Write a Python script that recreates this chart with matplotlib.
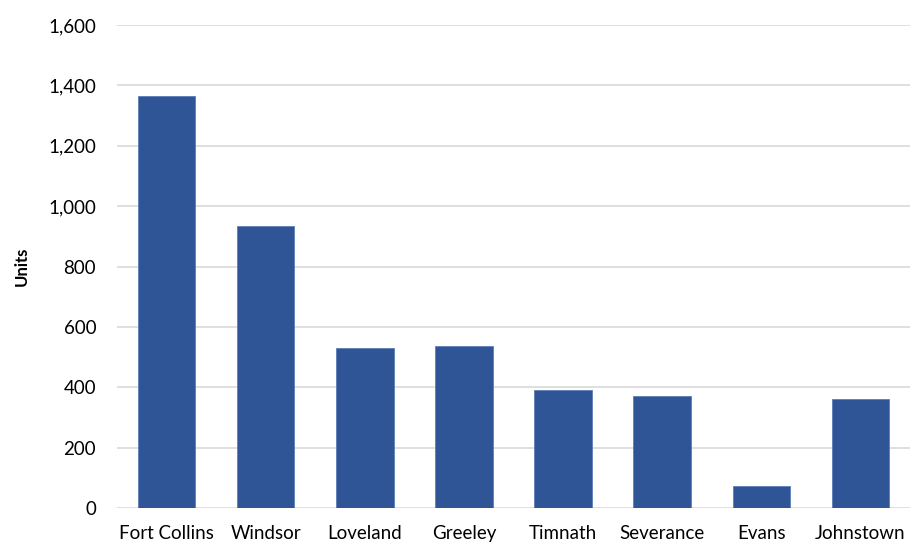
import matplotlib
matplotlib.use("Agg")
import matplotlib.pyplot as plt
from matplotlib.ticker import FuncFormatter, MultipleLocator

plt.rcParams['font.family'] = ['Lato', 'DejaVu Sans']

cities = ["Fort Collins", "Windsor", "Loveland", "Greeley", "Timnath",
          "Severance", "Evans", "Johnstown"]
units = [1366, 935, 530, 537, 390, 372, 72, 360]

fig = plt.figure(figsize=(9.2, 5.44), dpi=100)
ax = fig.add_axes([117 / 920, 1 - 508 / 544, (910 - 117) / 920, (508 - 25) / 544])

x = range(len(cities))
ax.bar(x, units, width=0.58, color="#2F5597", edgecolor="#5B7DB8", linewidth=0.6, zorder=2)

ax.set_xlim(-0.5, len(cities) - 0.5)
ax.set_ylim(0, 1600)
ax.yaxis.set_major_locator(MultipleLocator(200))
ax.yaxis.set_major_formatter(FuncFormatter(lambda v, p: f"{int(v):,}"))
ax.grid(axis="y", color="#d9d9d9", linewidth=1.2, zorder=0)
ax.set_xticks(list(x))
ax.set_xticklabels(cities)
for s in ax.spines.values():
    s.set_visible(False)
ax.tick_params(axis="both", length=0, labelsize=13.5, colors="#000000")
ax.tick_params(axis="y", pad=15)
ax.tick_params(axis="x", pad=12)
ax.set_ylabel("Units", fontsize=12, fontweight="bold", labelpad=13)

fig.savefig("out.png", dpi=100)
